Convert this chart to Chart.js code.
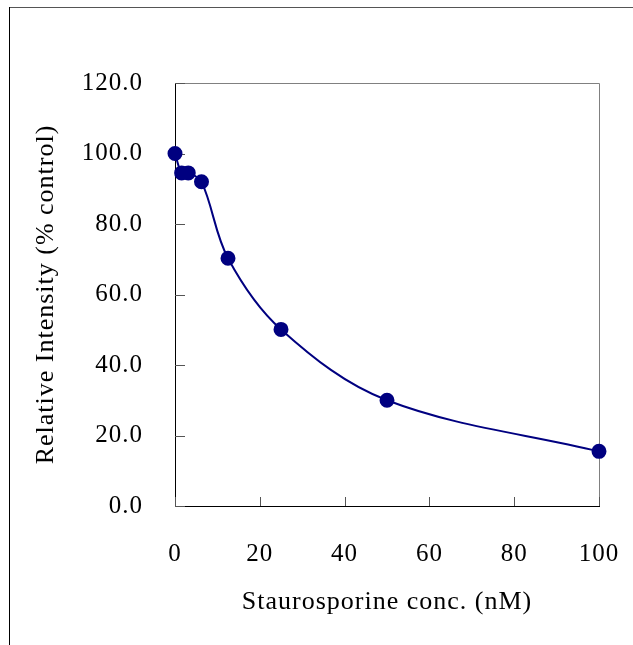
<!DOCTYPE html>
<html>
<head>
<meta charset="utf-8">
<script src="https://cdn.jsdelivr.net/npm/chart.js@4"></script>
<style>
  html, body { margin: 0; padding: 0; background: #fff; }
  #wrap { width: 633px; height: 645px; }
</style>
</head>
<body>
<div id="wrap"><canvas id="chart"></canvas></div>
<script>
// data
const concentrations = [0, 1.5625, 3.125, 6.25, 12.5, 25, 50, 100];
const intensity = [100, 94.5, 94.5, 92, 70.3, 50.1, 30, 15.5];
const xTicks = [0, 20, 40, 60, 80, 100];
const yTicks = [0, 20, 40, 60, 80, 100, 120];

const navy = '#000080';
const serif = "'Liberation Serif', 'Times New Roman', serif";

// box edges, inward tick marks and the outer picture border
const framePlugin = {
  id: 'frame',
  beforeDraw(chart) {
    // the original text is slightly spaced out
    chart.ctx.letterSpacing = '1px';
  },
  beforeDatasetsDraw(chart) {
    const { ctx, chartArea: a, scales } = chart;
    ctx.save();
    ctx.lineWidth = 1;
    ctx.strokeStyle = '#808080';
    ctx.beginPath();
    ctx.moveTo(a.left, a.top + 0.5);
    ctx.lineTo(a.right + 0.5, a.top + 0.5);
    ctx.lineTo(a.right + 0.5, a.bottom);
    ctx.stroke();

    ctx.strokeStyle = '#555';
    ctx.beginPath();
    yTicks.forEach(v => {
      const y = Math.round(scales.y.getPixelForValue(v)) + 0.5;
      ctx.moveTo(a.left, y);
      ctx.lineTo(a.left + 10, y);
    });
    xTicks.forEach(v => {
      const x = Math.round(scales.x.getPixelForValue(v)) + 0.5;
      ctx.moveTo(x, a.bottom);
      ctx.lineTo(x, a.bottom - 9);
    });
    ctx.stroke();

    ctx.strokeStyle = '#555';
    ctx.beginPath();
    ctx.moveTo(9, 7.5);
    ctx.lineTo(chart.width, 7.5);
    ctx.stroke();
    ctx.strokeStyle = '#000';
    ctx.beginPath();
    ctx.moveTo(9.5, 7);
    ctx.lineTo(9.5, chart.height);
    ctx.stroke();
    ctx.restore();
  }
};

const ctx = document.getElementById('chart').getContext('2d');
new Chart(ctx, {
  type: 'scatter',
  data: {
    datasets: [{
      data: concentrations.map((c, i) => ({ x: c, y: intensity[i] })),
      showLine: true,
      borderColor: navy,
      backgroundColor: navy,
      borderWidth: 2,
      pointRadius: 6.5,
      pointHoverRadius: 6.5,
      tension: 0.35,
      clip: false
    }]
  },
  options: {
    responsive: true,
    maintainAspectRatio: false,
    animation: false,
    layout: { padding: { top: 83, right: 34, left: 0, bottom: 0 } },
    plugins: {
      legend: { display: false },
      tooltip: { enabled: false }
    },
    scales: {
      x: {
        type: 'linear',
        min: 0,
        max: 100,
        afterFit: s => { s.height = 139; s.paddingLeft = 0; s.paddingRight = 0; },
        afterBuildTicks: s => { s.ticks = xTicks.map(v => ({ value: v })); },
        grid: { display: false, drawTicks: false },
        border: { display: true, color: '#000', width: 1 },
        ticks: {
          padding: 33,
          color: '#000',
          font: { family: serif, size: 25 },
          callback: v => String(v)
        },
        title: {
          display: true,
          text: 'Staurosporine conc. (nM)',
          color: '#000',
          font: { family: serif, size: 26 },
          padding: { top: 0, bottom: 27 }
        }
      },
      y: {
        type: 'linear',
        min: 0,
        max: 120,
        afterFit: s => { s.width = 175; },
        afterBuildTicks: s => { s.ticks = yTicks.map(v => ({ value: v })); },
        grid: { display: false, drawTicks: false },
        border: { display: true, color: '#000', width: 1 },
        ticks: {
          padding: 32,
          color: '#000',
          font: { family: serif, size: 25 },
          callback: v => v.toFixed(1)
        },
        title: {
          display: true,
          text: 'Relative Intensity (% control)',
          color: '#000',
          font: { family: serif, size: 26 },
          padding: { top: 31, bottom: 0 }
        }
      }
    }
  },
  plugins: [framePlugin]
});
</script>
</body>
</html>
